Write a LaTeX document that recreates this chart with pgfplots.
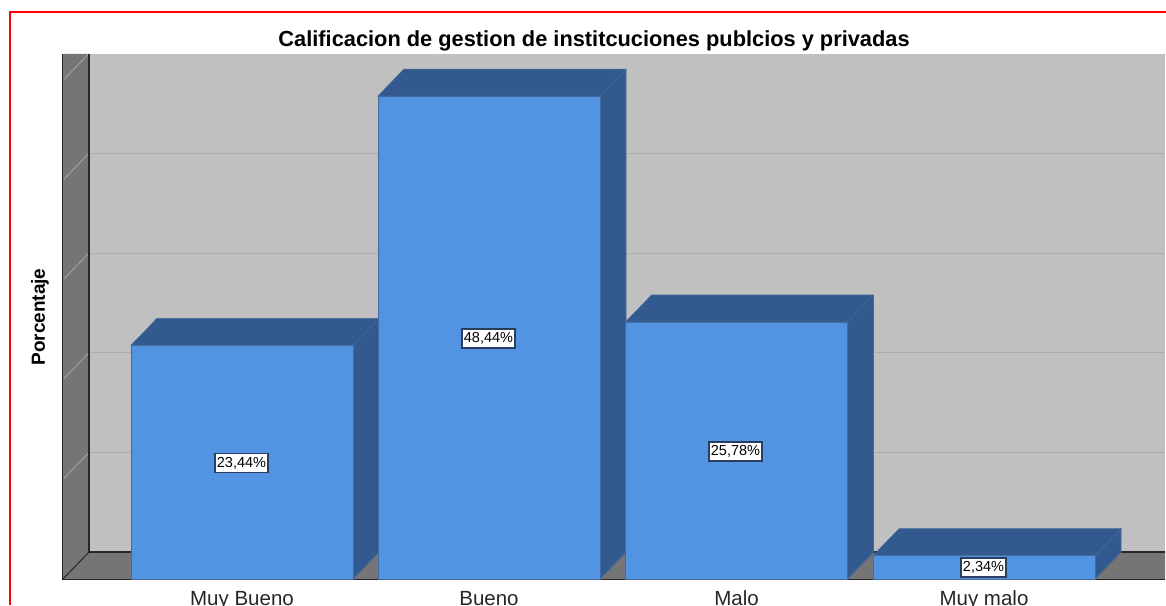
\documentclass[border=0pt]{standalone}
\usepackage{pgfplots}
\pgfplotsset{compat=1.18}
\usepackage{pgfplotstable}
\usepackage{fontspec}
\setmainfont{Liberation Sans}
\definecolor{wallback}{HTML}{C0C0C0}
\definecolor{wallside}{HTML}{757575}
\definecolor{gridc}{HTML}{ADADAD}
\definecolor{gridl}{HTML}{A8A8A8}
\definecolor{front}{HTML}{5294E2}
\definecolor{dark}{HTML}{335A8E}
\definecolor{edge}{HTML}{44699C}
\definecolor{lab}{HTML}{2A3F5F}
\pgfplotstableread{
x y mid label
241.5 23.44 11.72 23,44\%
488.5 48.44 24.22 48,44\%
735.5 25.78 12.89 25,78\%
983.5 2.34 1.25 2,34\%
}\datatable
\begin{document}
\begin{tikzpicture}[x=1pt,y=1pt]
\useasboundingbox (-63,-26) rectangle (1103,579);
\clip (-63,-26) rectangle (1103,579);
\begin{axis}[
  at={(0,0)}, anchor=south west,
  scale only axis, width=1102pt, height=525pt,
  xmin=63, xmax=1165, ymin=0, ymax=52.65,
  clip=false,
  axis line style={draw=none},
  tick style={draw=none},
  ytick=\empty,
  xtick={242,489,736.5,984},
  xticklabels={Muy Bueno,Bueno,Malo,Muy malo},
  xticklabel style={font=\fontsize{20.5}{22}\selectfont, color=black!85, text height=15pt, text depth=5pt, yshift=-11pt, inner sep=0pt},
  major tick length=0pt,
  title={\textbf{Calificacion de gestion de institcuciones publcios y privadas}},
  title style={font=\fontsize{21.8}{24}\selectfont, at={(axis description cs:0.4819,1)}, anchor=center, yshift=7pt},
  ylabel={\textbf{Porcentaje}},
  every axis y label/.style={at={(axis description cs:-0.0209,0.499)}, rotate=90, anchor=center, font=\fontsize{19}{21}\selectfont},
]
% walls and floor
\addplot[fill=wallback, draw=none] coordinates {(89,2.7)(1165,2.7)(1165,52.65)(89,52.65)} --cycle;
\addplot[fill=wallside, draw=none] coordinates {(63,0)(89,2.7)(89,52.65)(63,52.65)} --cycle;
\addplot[fill=wallside, draw=none] coordinates {(63,0)(1165,0)(1165,2.7)(89,2.7)} --cycle;
% grid lines
\foreach \v in {12.7,22.7,32.7,42.7}{
  \edef\tmp{\noexpand\addplot[gridc, line width=0.8pt, forget plot] coordinates {(89,\v)(1165,\v)};}
  \tmp
}
\addplot[gridl, line width=0.8pt] coordinates {(64,10.1)(89,12.7)};
\addplot[gridl, line width=0.8pt] coordinates {(64,20.1)(89,22.7)};
\addplot[gridl, line width=0.8pt] coordinates {(64,30.1)(89,32.7)};
\addplot[gridl, line width=0.8pt] coordinates {(64,40.1)(89,42.7)};
\addplot[gridl, line width=0.8pt] coordinates {(64,50.1)(88.5,52.65)};
% frame lines
\addplot[black!85, line width=1pt] coordinates {(63,52.65)(63,0)(1165,0)};
\addplot[black!85, line width=1.2pt] coordinates {(89,52.65)(89,2.7)(1165,2.7)};
\addplot[black!85, line width=1pt] coordinates {(63,0)(89,2.7)};
% bar 1
\addplot[fill=dark, draw=edge, line width=0.6pt] coordinates {(131,23.44)(157,26.14)(379,26.14)(353,23.44)} --cycle;
\addplot[fill=dark, draw=edge, line width=0.6pt] coordinates {(353,0)(379,2.7)(379,26.14)(353,23.44)} --cycle;
\addplot[ybar, bar shift=0pt, bar width=222pt, fill=front, draw=edge, line width=0.6pt] coordinates {(242,23.44)};
% bar 2
\addplot[fill=dark, draw=edge, line width=0.6pt] coordinates {(378,48.44)(404,51.14)(626,51.14)(600,48.44)} --cycle;
\addplot[fill=dark, draw=edge, line width=0.6pt] coordinates {(600,0)(626,2.7)(626,51.14)(600,48.44)} --cycle;
\addplot[ybar, bar shift=0pt, bar width=222pt, fill=front, draw=edge, line width=0.6pt] coordinates {(489,48.44)};
% bar 3
\addplot[fill=dark, draw=edge, line width=0.6pt] coordinates {(625.5,25.78)(651.5,28.48)(873.5,28.48)(847.5,25.78)} --cycle;
\addplot[fill=dark, draw=edge, line width=0.6pt] coordinates {(847.5,0)(873.5,2.7)(873.5,28.48)(847.5,25.78)} --cycle;
\addplot[ybar, bar shift=0pt, bar width=222pt, fill=front, draw=edge, line width=0.6pt] coordinates {(736.5,25.78)};
% bar 4
\addplot[fill=dark, draw=edge, line width=0.6pt] coordinates {(873,2.34)(899,5.04)(1121,5.04)(1095,2.34)} --cycle;
\addplot[fill=dark, draw=edge, line width=0.6pt] coordinates {(1095,0)(1121,2.7)(1121,5.04)(1095,2.34)} --cycle;
\addplot[ybar, bar shift=0pt, bar width=222pt, fill=front, draw=edge, line width=0.6pt] coordinates {(984,2.34)};
% value labels
\addplot[draw=none, mark=none, point meta=explicit symbolic,
  nodes near coords,
  nodes near coords align={center},
  every node near coord/.style={font=\fontsize{14.5}{16}\selectfont, fill=white, draw=lab, line width=1.2pt, inner xsep=2pt, inner ysep=0pt, minimum height=19pt, text=black, yshift=-1pt}]
  table[x=x, y=mid, meta=label] {\datatable};
\end{axis}
\draw[red, line width=2pt] (-52.5,-26) -- (-52.5,567) -- (1103,567);
\end{tikzpicture}
\end{document}
